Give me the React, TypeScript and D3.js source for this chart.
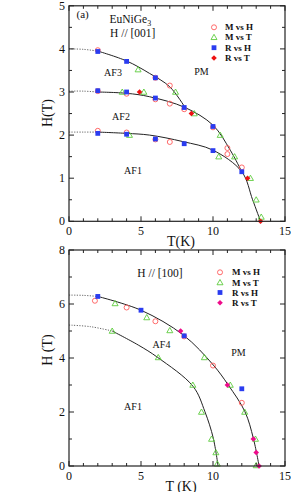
import React from "react";
import * as d3 from "d3";

// ---------- Panel (a): H // [001] ----------
const topMvsH: [number, number][] = [
  [2, 3.97], [6, 3.33], [7, 3.15], [2, 3.02], [4, 2.96], [6, 2.83], [7, 2.73], [8, 2.6],
  [10, 2.18], [2, 2.1], [4, 2.06], [6, 1.9], [7, 1.84], [11, 1.7], [11, 1.56], [12, 1.25],
];
const topMvsT: [number, number][] = [
  [4.8, 3.52], [7.4, 3.0], [3.7, 3.0], [5.2, 3.0], [8.7, 2.5], [4.2, 2.0], [10.5, 2.0],
  [10.4, 1.5], [11.5, 1.5], [12.6, 1.0], [13.0, 0.5], [13.35, 0.1],
];
const topRvsH: [number, number][] = [
  [2, 3.94], [4, 3.71], [6, 3.33], [2, 3.03], [4, 3.0], [6, 2.86], [8, 2.64], [10, 2.2],
  [2, 2.04], [4, 2.02], [6, 1.91], [8, 1.8], [10, 1.64], [12, 1.15],
];
const topRvsT: [number, number][] = [[4.9, 3.0], [8.5, 2.5], [12.4, 1.0], [13.3, 0.0]];

const topUpperDotted: [number, number][] = [[0, 4.0], [1, 3.99], [2, 3.95]];
const topUpper: [number, number][] = [[2, 3.95], [4, 3.72], [5.6, 3.43], [7, 3.12], [8.06, 2.64]];
const topMiddleDotted: [number, number][] = [[0, 3.02], [1, 3.02], [2, 3.0]];
const topMiddle: [number, number][] = [
  [2, 3.0], [4, 2.97], [5.6, 2.89], [8.06, 2.64], [10, 2.23], [11.2, 1.65], [12, 1.15],
];
const topLowerDotted: [number, number][] = [[0, 2.07], [1, 2.07], [2, 2.07]];
const topLower: [number, number][] = [
  [2, 2.07], [4, 2.04], [5.6, 2.0], [7.9, 1.85], [10, 1.65], [12, 1.15], [12.75, 0.5], [13.3, 0],
];

// ---------- Panel (b): H // [100] ----------
const botMvsH: [number, number][] = [[1.8, 6.12], [4, 5.87], [6, 5.36], [8, 4.8], [10, 3.72], [12, 2.34]];
const botMvsT: [number, number][] = [
  [3.2, 6.02], [5.4, 5.5], [7, 5.02], [9.4, 4.02], [11.2, 3.0], [12.2, 2.0], [12.95, 1.0], [13.0, 0.02],
  [3.0, 5.0], [6.2, 4.02], [8.6, 3.0], [9.2, 2.0], [9.9, 1.0], [10.2, 0.5], [10.3, 0.08],
];
const botRvsH: [number, number][] = [[2, 6.28], [5, 5.77], [8, 4.82], [12, 2.86]];
const botRvsT: [number, number][] = [[7.75, 5.0], [11.0, 3.0], [12.8, 1.0], [13.0, 0.5], [13.2, 0.0]];

const botOuterDotted: [number, number][] = [[0, 6.33], [1, 6.32], [2, 6.28]];
const botOuter: [number, number][] = [
  [2, 6.28], [5, 5.77], [7.94, 4.85], [10.02, 3.74], [11.06, 3.0], [12.22, 2.01], [12.8, 1.03], [13.2, 0],
];
const botInnerDotted: [number, number][] = [[0, 5.22], [1.5, 5.16], [3, 5.0]];
const botInner: [number, number][] = [
  [3, 5.0], [4.81, 4.48], [6.16, 4.02], [8.63, 2.94], [9.44, 2.01], [10.02, 1.03], [10.35, 0],
];

const legendLabels = ["M vs H", "M vs T", "R vs H", "R vs T"];
const xTicksMajor = [0, 5, 10, 15];
const topYTicksMajor = [0, 1, 2, 3, 4, 5];
const botYTicksMajor = [0, 2, 4, 6, 8];

const FONT = "'Liberation Serif', 'Times New Roman', serif";
const C_CIRCLE = "#ff5a5a";
const C_TRI = "#5ccc3c";
const C_SQ = "#2a3cf0";

type Pt = [number, number];

function Marker({ kind, x, y, color }: { kind: string; x: number; y: number; color: string }) {
  if (kind === "circle") return <circle cx={x} cy={y} r={2.5} fill="none" stroke={color} strokeWidth={0.9} />;
  if (kind === "tri") {
    const s = 3;
    return (
      <path
        d={`M${x},${y - s}L${x + s},${y + s * 0.75}L${x - s},${y + s * 0.75}Z`}
        fill="none"
        stroke={color}
        strokeWidth={0.9}
      />
    );
  }
  if (kind === "square") return <rect x={x - 2.4} y={y - 2.4} width={4.8} height={4.8} fill={color} />;
  const s = 2.8;
  return <path d={`M${x},${y - s}L${x + s},${y}L${x},${y + s}L${x - s},${y}Z`} fill={color} />;
}

function Panel({
  yMax, y0px, y1px, yMajor, yMinorStep, yLabelCenter, yTitle,
  mvh, mvt, rvh, rvt, rvtColor, solids, dotteds, texts, legendX, legendTextX, legendY,
}: any) {
  const x = d3.scaleLinear().domain([0, 15]).range([69, 285]);
  const y = d3.scaleLinear().domain([0, yMax]).range([y0px, y1px]);
  const line = d3
    .line<Pt>()
    .x((d) => x(d[0]))
    .y((d) => y(d[1]))
    .curve(d3.curveCatmullRom.alpha(0.5));
  const xMinor = d3.range(0, 15.001, 1);
  const yMinor = d3.range(0, yMax + 0.001, yMinorStep);
  const [xl, xr] = x.range();
  const yb = y0px, yt = y1px;
  const ticks: any[] = [];
  xMinor.forEach((v, i) => {
    const major = xTicksMajor.includes(v);
    const L = major ? 5 : 3;
    ticks.push(<line key={"xb" + i} x1={x(v)} x2={x(v)} y1={yb} y2={yb - L} />);
    ticks.push(<line key={"xt" + i} x1={x(v)} x2={x(v)} y1={yt} y2={yt + L} />);
  });
  yMinor.forEach((v, i) => {
    const major = yMajor.includes(+v.toFixed(3));
    const L = major ? 5 : 3;
    ticks.push(<line key={"yl" + i} x1={xl} x2={xl + L} y1={y(v)} y2={y(v)} />);
    ticks.push(<line key={"yr" + i} x1={xr} x2={xr - L} y1={y(v)} y2={y(v)} />);
  });
  const kinds = ["circle", "tri", "square", "diamond"];
  const colors = [C_CIRCLE, C_TRI, C_SQ, rvtColor];
  return (
    <g>
      {dotteds.map((d: Pt[], i: number) => (
        <path key={"d" + i} d={line(d) || ""} fill="none" stroke="#555" strokeWidth={0.9} strokeDasharray="1.2,1.4" />
      ))}
      {solids.map((d: Pt[], i: number) => (
        <path key={"s" + i} d={line(d) || ""} fill="none" stroke="#222" strokeWidth={1} />
      ))}
      {mvh.map((d: Pt, i: number) => <Marker key={"a" + i} kind="circle" x={x(d[0])} y={y(d[1])} color={C_CIRCLE} />)}
      {mvt.map((d: Pt, i: number) => <Marker key={"b" + i} kind="tri" x={x(d[0])} y={y(d[1])} color={C_TRI} />)}
      {rvh.map((d: Pt, i: number) => <Marker key={"c" + i} kind="square" x={x(d[0])} y={y(d[1])} color={C_SQ} />)}
      {rvt.map((d: Pt, i: number) => <Marker key={"e" + i} kind="diamond" x={x(d[0])} y={y(d[1])} color={rvtColor} />)}
      <rect x={xl} y={yt} width={xr - xl} height={yb - yt} fill="none" stroke="#222" strokeWidth={1.2} />
      <g stroke="#222" strokeWidth={1}>{ticks}</g>
      <g fontFamily={FONT} fontSize={12} fill="#111">
        {xTicksMajor.map((v) => (
          <text key={"xl" + v} x={x(v)} y={yb + 14} textAnchor="middle">{v}</text>
        ))}
        {yMajor.map((v: number) => (
          <text key={"yl" + v} x={xl - 4} y={y(v) + 4} textAnchor="end">{v}</text>
        ))}
      </g>
      <text x={181} y={yb + 24.5} textAnchor="middle" fontFamily={FONT} fontSize={14} fill="#111">
        {yTitle.x}
      </text>
      <text
        transform={`translate(52,${yLabelCenter}) rotate(-90)`}
        textAnchor="middle"
        fontFamily={FONT}
        fontSize={14}
        fill="#111"
      >
        {yTitle.y}
      </text>
      {texts}
      {legendLabels.map((lab, i) => (
        <g key={"lg" + i}>
          <Marker kind={kinds[i]} x={legendX} y={legendY[i]} color={colors[i]} />
          <text x={legendTextX} y={legendY[i] + 3} fontFamily={FONT} fontSize={9} fontWeight="bold" fill="#111">
            {lab}
          </text>
        </g>
      ))}
    </g>
  );
}

export default function App() {
  const lbl = { fontFamily: FONT, fontSize: 10, fill: "#111" } as any;
  return (
    <svg width={291} height={492} style={{ position: "absolute", left: 0, top: 0, background: "#fff" }}>
      <Panel
        yMax={5}
        y0px={221.3}
        y1px={5.8}
        yMajor={topYTicksMajor}
        yMinorStep={0.5}
        yLabelCenter={113}
        yTitle={{ x: "T(K)", y: "H(T)" }}
        mvh={topMvsH}
        mvt={topMvsT}
        rvh={topRvsH}
        rvt={topRvsT}
        rvtColor="#ee1111"
        solids={[topUpper, topMiddle, topLower]}
        dotteds={[topUpperDotted, topMiddleDotted, topLowerDotted]}
        legendX={214}
        legendTextX={225}
        legendY={[27.3, 37.3, 47.7, 58]}
        texts={
          <g>
            <text x={76.5} y={18} fontFamily={FONT} fontSize={11} fill="#111">(a)</text>
            <text x={109.5} y={23} fontFamily={FONT} fontSize={11.5} fill="#111">
              EuNiGe<tspan fontSize={8} dy={3}>3</tspan>
            </text>
            <text x={110} y={36.5} fontFamily={FONT} fontSize={11.5} fill="#111">H // [001]</text>
            <text x={113} y={76} textAnchor="middle" {...lbl}>AF3</text>
            <text x={201.5} y={74.5} textAnchor="middle" {...lbl}>PM</text>
            <text x={121} y={119.5} textAnchor="middle" {...lbl}>AF2</text>
            <text x={133} y={173.5} textAnchor="middle" {...lbl}>AF1</text>
          </g>
        }
      />
      <Panel
        yMax={8}
        y0px={466}
        y1px={250}
        yMajor={botYTicksMajor}
        yMinorStep={1}
        yLabelCenter={350}
        yTitle={{ x: "T (K)", y: "H (T)" }}
        mvh={botMvsH}
        mvt={botMvsT}
        rvh={botRvsH}
        rvt={botRvsT}
        rvtColor="#ee0a8a"
        solids={[botOuter, botInner]}
        dotteds={[botOuterDotted, botInnerDotted]}
        legendX={220}
        legendTextX={232}
        legendY={[272.3, 282.5, 292.5, 302.7]}
        texts={
          <g>
            <text x={160} y={276.5} textAnchor="middle" fontFamily={FONT} fontSize={11.5} fill="#111">H // [100]</text>
            <text x={161.5} y={347.5} textAnchor="middle" {...lbl}>AF4</text>
            <text x={238.5} y={356} textAnchor="middle" {...lbl}>PM</text>
            <text x={133} y={410} textAnchor="middle" {...lbl}>AF1</text>
          </g>
        }
      />
    </svg>
  );
}
